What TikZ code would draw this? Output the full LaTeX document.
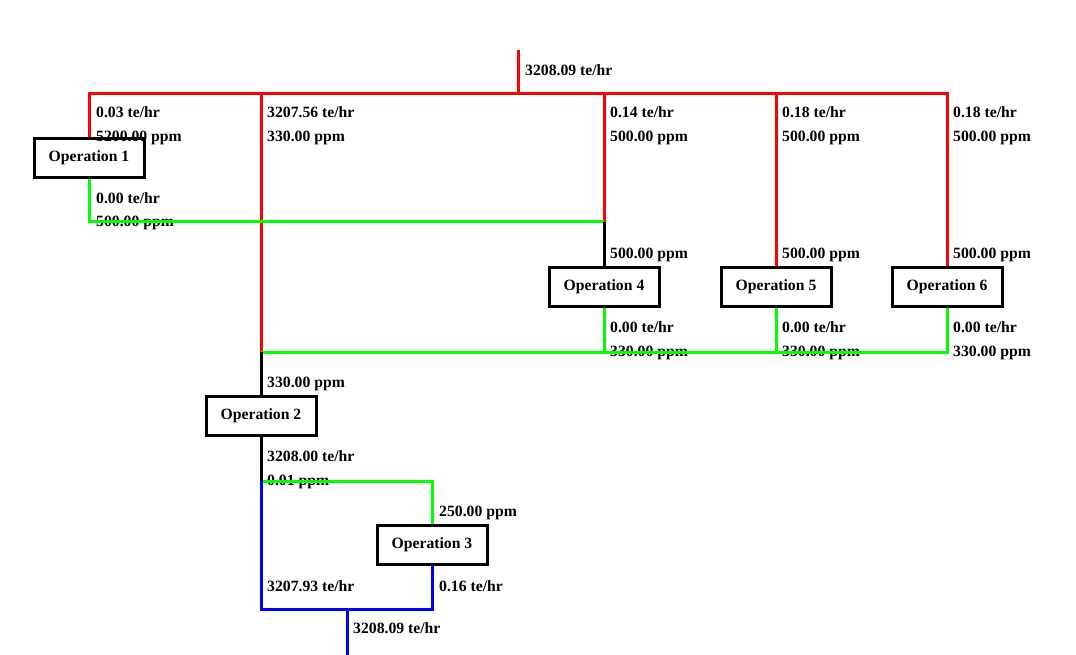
\documentclass[tikz,border=0pt]{standalone}
\usepackage{fontspec}
\setmainfont{Liberation Serif}
\usetikzlibrary{positioning}

\begin{document}
\begin{tikzpicture}[x=1pt, y=-1pt,
  opbox/.style={
    rectangle, draw=black, line width=3pt,
    minimum width=110pt, minimum height=39pt,
    font=\bfseries\fontsize{15.7}{18}\selectfont
  },
  flowlbl/.style={anchor=west, inner sep=0pt, font=\bfseries\fontsize{15.7}{18}\selectfont},
  redpipe/.style={draw=red, line width=3pt},
  greenpipe/.style={draw=green, line width=3pt},
  bluepipe/.style={draw=blue, line width=3pt},
  blackpipe/.style={draw=black, line width=3pt}
]
\useasboundingbox (0,0) rectangle (1076,655);

% operations
\node[opbox] (op1) at (89,158)  {Operation 1};
\node[opbox] (op2) at (261,416) {Operation 2};
\node[opbox] (op3) at (432,545) {Operation 3};
\node[opbox] (op4) at (604,287) {Operation 4};
\node[opbox] (op5) at (776,287) {Operation 5};
\node[opbox] (op6) at (947,287) {Operation 6};

% junctions
\coordinate (feed) at (518,50);
\coordinate (jsplit) at (518,94);
\coordinate (j1) at (89,94);
\coordinate (j2) at (261,94);
\coordinate (j4) at (604,94);
\coordinate (j5) at (776,94);
\coordinate (j6) at (947,94);
\coordinate (g1) at (89,222);
\coordinate (g4) at (604,222);
\coordinate (c2) at (261,352);
\coordinate (c4) at (604,352);
\coordinate (c5) at (776,352);
\coordinate (c6) at (947,352);
\coordinate (d2) at (261,481);
\coordinate (d3) at (432,481);
\coordinate (b2) at (261,609);
\coordinate (b3) at (432,609);
\coordinate (bmix) at (347,609);
\coordinate (prod) at (347,655);

% flow labels
\node[flowlbl] (lfeed) at (525,70) {3208.09 te/hr};
\node[flowlbl] (l1f) at (96,112)  {0.03 te/hr};
\node[flowlbl] (l1c) at (96,138)  {5200.00 ppm};
\node[flowlbl] (l2f) at (267,112) {3207.56 te/hr};
\node[flowlbl] (l2c) at (267,138) {330.00 ppm};
\node[flowlbl] (l4f) at (610,112) {0.14 te/hr};
\node[flowlbl] (l4c) at (610,138) {500.00 ppm};
\node[flowlbl] (l5f) at (782,112) {0.18 te/hr};
\node[flowlbl] (l5c) at (782,138) {500.00 ppm};
\node[flowlbl] (l6f) at (953,112) {0.18 te/hr};
\node[flowlbl] (l6c) at (953,138) {500.00 ppm};
\node[flowlbl] (o1f) at (96,198)  {0.00 te/hr};
\node[flowlbl] (o1c) at (96,223)  {500.00 ppm};
\node[flowlbl] (i4c) at (610,255) {500.00 ppm};
\node[flowlbl] (i5c) at (782,255) {500.00 ppm};
\node[flowlbl] (i6c) at (953,255) {500.00 ppm};
\node[flowlbl] (o4f) at (610,327) {0.00 te/hr};
\node[flowlbl] (o4c) at (610,353) {330.00 ppm};
\node[flowlbl] (o5f) at (782,327) {0.00 te/hr};
\node[flowlbl] (o5c) at (782,353) {330.00 ppm};
\node[flowlbl] (o6f) at (953,327) {0.00 te/hr};
\node[flowlbl] (o6c) at (953,353) {330.00 ppm};
\node[flowlbl] (i2c) at (267,384) {330.00 ppm};
\node[flowlbl] (o2f) at (267,456) {3208.00 te/hr};
\node[flowlbl] (o2c) at (267,482) {0.01 ppm};
\node[flowlbl] (i3c) at (439,513) {250.00 ppm};
\node[flowlbl] (b2f) at (267,586) {3207.93 te/hr};
\node[flowlbl] (o3f) at (439,586) {0.16 te/hr};
\node[flowlbl] (lprod) at (353,628) {3208.09 te/hr};

% fresh water header
\draw[redpipe] (feed) -- (jsplit);
\draw[redpipe] (op1.north) -- (j1) -- (j6) -- (op6.north);
\draw[redpipe] (j2) -- (c2);
\draw[redpipe] (j4) -- (g4);
\draw[redpipe] (j5) -- (op5.north);

% reuse streams
\draw[greenpipe] (op1.south) -- (g1) -- (g4);
\draw[greenpipe] (op6.south) -- (c6) -- (c2);
\draw[greenpipe] (op4.south) -- (c4);
\draw[greenpipe] (op5.south) -- (c5);
\draw[greenpipe] (d2) -- (d3) -- (op3.north);

% mixed inlets
\draw[blackpipe] (g4) -- (op4.north);
\draw[blackpipe] (c2) -- (op2.north);
\draw[blackpipe] (op2.south) -- (d2);

% discharge
\draw[bluepipe] (d2) -- (b2) -- (b3) -- (op3.south);
\draw[bluepipe] (bmix) -- (prod);
\end{tikzpicture}
\end{document}
